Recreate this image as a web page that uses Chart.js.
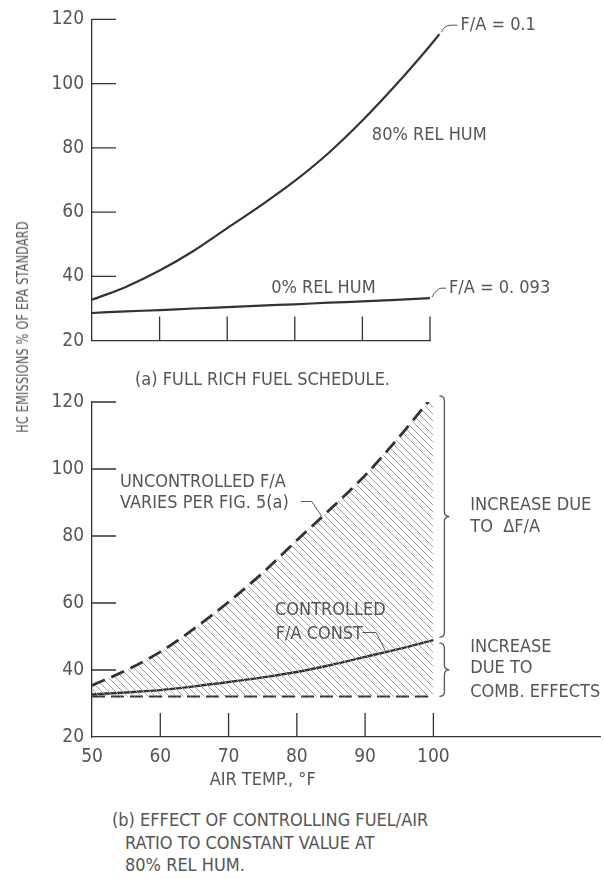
<!DOCTYPE html>
<html>
<head>
<meta charset="utf-8">
<script src="https://cdn.jsdelivr.net/npm/chart.js@4.4.0/dist/chart.umd.min.js"></script>
<style>
  html, body { margin: 0; padding: 0; background: #fff; }
  body { width: 604px; height: 879px; position: relative; overflow: hidden;
         font-family: "Liberation Sans Narrow", "DejaVu Sans Condensed", sans-serif; color: #555; }
  canvas { position: absolute; left: 0; }
  #topChart { top: 0; }
  #bottomChart { top: 380px; }
  .txt { position: absolute; white-space: nowrap; font-size: 18px; line-height: 22px; }
  #ytitle { left: 23px; top: 327px; font-size: 16px; letter-spacing: 0.3px;
            transform: translate(-50%, -50%) rotate(-90deg) scaleX(0.78); }
</style>
</head>
<body>
<canvas id="topChart" width="604" height="360"></canvas>
<canvas id="bottomChart" width="604" height="420"></canvas>
<div class="txt" id="ytitle">HC EMISSIONS % OF EPA STANDARD</div>
<div class="txt" style="left:135px; top:368px;">(a) FULL RICH FUEL SCHEDULE.</div>
<div class="txt" style="left:112px; top:809px;">(b) EFFECT OF CONTROLLING FUEL/AIR</div>
<div class="txt" style="left:125px; top:832px;">RATIO TO CONSTANT VALUE AT</div>
<div class="txt" style="left:125px; top:854px;">80% REL HUM.</div>
<script>
// air temperature, deg F
const temps = [50, 55, 60, 65, 70, 75, 80, 85, 90, 95, 100];
const xTicks = [50, 60, 70, 80, 90, 100];
const yTicks = [20, 40, 60, 80, 100, 120];

// (a) full rich fuel schedule
const rh80Temps = [50, 55, 60, 65, 70, 75, 80, 85, 90, 95, 100, 101.4];
const rh80Hc = [32.7, 36.7, 41.8, 47.9, 55.0, 62.1, 69.7, 78.4, 88.5, 99.7, 111.8, 115.4];
const rh0Hc = [28.6, 29.1, 29.5, 30.0, 30.4, 30.9, 31.3, 31.8, 32.2, 32.7, 33.2];

// (b) controlled vs uncontrolled F/A at 80% rel hum
const uncontrolledHc = [35.4, 39.9, 45.4, 52.4, 60.3, 69.0, 78.7, 88.2, 98.1, 109.6, 122.0];
const controlledHc = [32.7, 33.3, 34.0, 35.1, 36.4, 37.8, 39.4, 41.5, 43.9, 46.3, 48.9];
const baselineHc = [32.1, 32.1, 32.1, 32.1, 32.1, 32.1, 32.1, 32.1, 32.1, 32.1, 32.1];

const FONT = '"Liberation Sans Narrow", "DejaVu Sans Condensed", sans-serif';
const INK = '#333';
const TEXT = '#555';
Chart.defaults.font.family = FONT;
Chart.defaults.color = TEXT;

const pts = (xs, ys) => xs.map((x, i) => ({ x: x, y: ys[i] }));

function hatch(canvas) {
  const s = 7;
  const c = document.createElement('canvas');
  c.width = s; c.height = s;
  const g = c.getContext('2d');
  g.strokeStyle = '#a0a0a0';
  g.lineWidth = 1;
  g.beginPath();
  for (const k of [-s, 0, s]) { g.moveTo(k, 0); g.lineTo(k + s, s); }
  g.stroke();
  return canvas.getContext('2d').createPattern(c, 'repeat');
}

function label(ctx, s, x, y) {
  ctx.fillText(s, x, y);
}

function brace(ctx, x, y1, y2, w) {
  const m = (y1 + y2) / 2;
  const h = w / 2;
  ctx.beginPath();
  ctx.moveTo(x, y1);
  ctx.quadraticCurveTo(x + h, y1, x + h, y1 + h);
  ctx.lineTo(x + h, m - h);
  ctx.quadraticCurveTo(x + h, m, x + w, m);
  ctx.quadraticCurveTo(x + h, m, x + h, m + h);
  ctx.lineTo(x + h, y2 - h);
  ctx.quadraticCurveTo(x + h, y2, x, y2);
  ctx.stroke();
}

function inwardTicks(chart) {
  const ctx = chart.ctx, xs = chart.scales.x, ys = chart.scales.y;
  ctx.save();
  ctx.strokeStyle = INK;
  ctx.lineWidth = 1.3;
  ctx.beginPath();
  yTicks.slice(1).forEach(v => {
    const y = ys.getPixelForValue(v);
    ctx.moveTo(xs.left, y); ctx.lineTo(xs.left + 24, y);
  });
  xTicks.slice(1).forEach(v => {
    const x = xs.getPixelForValue(v);
    ctx.moveTo(x, ys.bottom); ctx.lineTo(x, ys.bottom - 24);
  });
  ctx.stroke();
  ctx.restore();
}

const topNotes = {
  id: 'topNotes',
  afterDraw(chart) {
    inwardTicks(chart);
    const ctx = chart.ctx, xs = chart.scales.x, ys = chart.scales.y;
    const px = v => xs.getPixelForValue(v), py = v => ys.getPixelForValue(v);
    ctx.save();
    ctx.font = '18px ' + FONT;
    ctx.fillStyle = TEXT;
    ctx.textBaseline = 'middle';
    ctx.strokeStyle = TEXT;
    ctx.lineWidth = 1;

    const a = chart.getDatasetMeta(0).data;
    const e1 = a[a.length - 1];
    ctx.beginPath();
    ctx.moveTo(e1.x + 2, e1.y - 2);
    ctx.quadraticCurveTo(e1.x + 5, e1.y - 9, e1.x + 11, e1.y - 9);
    ctx.lineTo(e1.x + 18, e1.y - 9);
    ctx.stroke();
    label(ctx, 'F/A = 0.1', e1.x + 21, e1.y - 9);

    const b = chart.getDatasetMeta(1).data;
    const e2 = b[b.length - 1];
    ctx.beginPath();
    ctx.moveTo(e2.x + 2, e2.y - 1);
    ctx.quadraticCurveTo(e2.x + 6, e2.y - 9, e2.x + 11, e2.y - 10);
    ctx.lineTo(e2.x + 16, e2.y - 10);
    ctx.stroke();
    label(ctx, 'F/A = 0. 093', e2.x + 19, e2.y - 10);

    label(ctx, '80% REL HUM', px(91.4), py(84));
    label(ctx, '0% REL HUM', px(76.5), py(36.4));
    ctx.restore();
  }
};

const bottomNotes = {
  id: 'bottomNotes',
  afterDraw(chart) {
    inwardTicks(chart);
    const ctx = chart.ctx, xs = chart.scales.x, ys = chart.scales.y;
    const px = v => xs.getPixelForValue(v), py = v => ys.getPixelForValue(v);
    ctx.save();
    ctx.font = '18px ' + FONT;
    ctx.fillStyle = TEXT;
    ctx.textBaseline = 'middle';
    ctx.strokeStyle = TEXT;
    ctx.lineWidth = 1;

    label(ctx, 'UNCONTROLLED F/A', px(54.1), py(96.0));
    label(ctx, 'VARIES PER FIG. 5(a)', px(54.1), py(89.8));
    ctx.beginPath();
    ctx.moveTo(px(80.6), py(90.3));
    ctx.lineTo(px(82.2), py(90.3));
    ctx.lineTo(px(83.6), py(86.0));
    ctx.stroke();

    label(ctx, 'CONTROLLED', px(76.8), py(57.8));
    label(ctx, 'F/A CONST', px(76.9), py(50.6));
    ctx.beginPath();
    ctx.moveTo(px(89.6), py(51.2));
    ctx.lineTo(px(91.6), py(51.2));
    ctx.lineTo(px(93.0), py(45.6));
    ctx.stroke();

    ctx.lineWidth = 1.3;
    brace(ctx, px(100) + 6, py(121.8), py(49.8), 10);
    brace(ctx, px(100) + 6, py(48.0), py(32.1), 10);

    label(ctx, 'INCREASE DUE', px(105.4), py(89.2));
    label(ctx, 'TO  \u0394F/A', px(105.4), py(82.6));
    label(ctx, 'INCREASE', px(105.4), py(46.8));
    label(ctx, 'DUE TO', px(105.4), py(40.5));
    label(ctx, 'COMB. EFFECTS', px(105.4), py(33.3));

    ctx.textAlign = 'center';
    label(ctx, 'AIR TEMP., \u00B0F', px(75), ys.bottom + 43);
    ctx.restore();
  }
};

function axes(xMax, showX) {
  return {
    x: {
      type: 'linear',
      bounds: 'data',
      // limits set after data so the line is not cut at the axis end
      afterDataLimits: s => { s.min = 50; s.max = xMax; },
      afterBuildTicks: s => { s.min = 50; s.max = xMax; s.ticks = xTicks.map(v => ({ value: v })); },
      afterFit: s => { s.height = showX ? 63 : 15; },
      grid: { drawOnChartArea: false, drawTicks: false },
      border: { color: INK, width: 1.3 },
      ticks: { display: showX, padding: 9, color: TEXT, font: { size: 19 } }
    },
    y: {
      type: 'linear', min: 20, max: 120,
      afterBuildTicks: s => { s.ticks = yTicks.map(v => ({ value: v })); },
      afterFit: s => { s.width = 92; },
      grid: { drawOnChartArea: false, drawTicks: false },
      border: { color: INK, width: 1.3 },
      ticks: { padding: 8, color: TEXT, font: { size: 19 } }
    }
  };
}

const common = {
  responsive: false,
  animation: false,
  events: [],
  plugins: { legend: { display: false }, tooltip: { enabled: false } },
  elements: { point: { radius: 0 }, line: { cubicInterpolationMode: 'monotone' } }
};

new Chart(document.getElementById('topChart'), {
  type: 'line',
  data: {
    datasets: [
      { data: pts(rh80Temps, rh80Hc), borderColor: INK, borderWidth: 2.2, clip: false },
      { data: pts(temps, rh0Hc), borderColor: INK, borderWidth: 2.2 }
    ]
  },
  options: Object.assign({}, common, {
    layout: { padding: { top: 17, right: 174, bottom: 0, left: 0 } },
    scales: axes(100, false)
  }),
  plugins: [topNotes]
});

const bottomCanvas = document.getElementById('bottomChart');
new Chart(bottomCanvas, {
  type: 'line',
  data: {
    datasets: [
      { data: pts(temps, uncontrolledHc), borderColor: INK, borderWidth: 2.8,
        borderDash: [14, 7], fill: 2, backgroundColor: hatch(bottomCanvas) },
      { data: pts(temps, controlledHc), borderColor: INK, borderWidth: 2.4 },
      { data: pts(temps, baselineHc), borderColor: INK, borderWidth: 2, borderDash: [13, 6] }
    ]
  },
  options: Object.assign({}, common, {
    layout: { padding: { top: 22, right: 4, bottom: 0, left: 0 } },
    scales: axes(124.4, true)
  }),
  plugins: [bottomNotes]
});
</script>
</body>
</html>
